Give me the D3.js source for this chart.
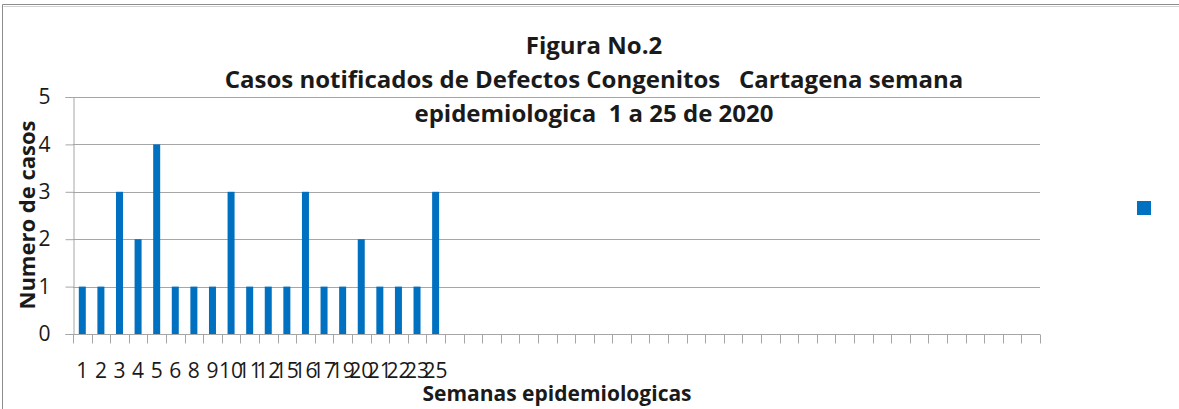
<!DOCTYPE html>
<html>
<head>
<meta charset="utf-8">
<script src="https://cdn.jsdelivr.net/npm/d3@7"></script>
<style>
  body { margin: 0; background: #fff; }
  text { font-family: "Open Sans", "Liberation Sans", sans-serif; }
</style>
</head>
<body>
<script>
// semanas con casos y casos por semana
var semanas = ["1","2","3","4","5","6","8","9","10","11","12","15","16","17","19","20","21","22","23","25"];
var casos = [1,1,3,2,4,1,1,1,3,1,1,1,3,1,1,2,1,1,1,3];
var totalCategorias = 52;   // el eje sigue con casillas vacias hasta 52
var yTicks = [0,1,2,3,4,5];
var titulo = ["Figura No.2", "Casos notificados de Defectos Congenitos   Cartagena semana", "epidemiologica  1 a 25 de 2020"];

var W = 1179, H = 409;
var svg = d3.select("body").append("svg").attr("width", W).attr("height", H);

// marco del grafico
svg.append("path").attr("d", "M2.5," + H + " V4.5 H" + W).attr("fill", "none").attr("stroke", "#8c8c8c").attr("stroke-width", 1);
svg.append("path").attr("d", "M3.5,6.5 H" + W).attr("fill", "none").attr("stroke", "#d0d0d0").attr("stroke-width", 1);

var pLeft = 73, pRight = 1040, pTop = 97, pBottom = 334;

var idx = d3.range(totalCategorias);
var x = d3.scaleBand().domain(idx).range([pLeft, pRight]).padding(0);
var y = d3.scaleLinear().domain([0, 5]).range([pBottom, pTop]);

// lineas de cuadricula
svg.append("g").selectAll("line").data(yTicks.slice(1)).enter().append("line")
  .attr("x1", pLeft).attr("x2", pRight)
  .attr("y1", function(d) { return Math.round(y(d)) + 0.5; })
  .attr("y2", function(d) { return Math.round(y(d)) + 0.5; })
  .attr("stroke", "#a6a6a6").attr("stroke-width", 1);

// barras
var bw = 7;
svg.append("g").selectAll("rect").data(casos).enter().append("rect")
  .attr("x", function(d, i) { return x(i) + x.bandwidth() / 2 - bw / 2; })
  .attr("y", function(d) { return y(d); })
  .attr("width", bw)
  .attr("height", function(d) { return y(0) - y(d); })
  .attr("fill", "#0070c0");

// eje y
var yAxis = svg.append("g").attr("transform", "translate(" + (pLeft + 0.5) + ",0)")
  .call(d3.axisLeft(y).tickValues(yTicks).tickFormat(d3.format("d")).tickSize(8).tickPadding(15));
yAxis.select(".domain").attr("stroke", "#a6a6a6");
yAxis.selectAll(".tick line").attr("stroke", "#a6a6a6");
yAxis.selectAll(".tick text").attr("font-size", 21).attr("fill", "#1a1a1a")
  .style("font-family", "'Open Sans', sans-serif");

// eje x: marcas en los bordes de cada casilla
var xg = svg.append("g").attr("transform", "translate(0," + (pBottom + 0.5) + ")");
xg.append("line").attr("x1", pLeft).attr("x2", pRight).attr("stroke", "#a6a6a6");
xg.selectAll(".tk").data(d3.range(totalCategorias + 1)).enter().append("line")
  .attr("class", "tk")
  .attr("x1", function(d) { return Math.round(pLeft + d * x.step()) + 0.5; })
  .attr("x2", function(d) { return Math.round(pLeft + d * x.step()) + 0.5; })
  .attr("y1", 0).attr("y2", 9)
  .attr("stroke", "#a6a6a6");
xg.selectAll(".lb").data(semanas).enter().append("text")
  .attr("class", "lb")
  .attr("x", function(d, i) { return x(i) + x.bandwidth() / 2; })
  .attr("y", 43)
  .attr("text-anchor", "middle")
  .attr("font-size", 21)
  .attr("fill", "#1a1a1a")
  .text(function(d) { return d; });

// titulos de los ejes
svg.append("text")
  .attr("transform", "translate(35,215) rotate(-90)")
  .attr("text-anchor", "middle")
  .attr("font-size", 22).attr("font-weight", "bold").attr("fill", "#1a1a1a")
  .text("Numero de casos");

svg.append("text")
  .attr("x", 557).attr("y", 401)
  .attr("text-anchor", "middle")
  .attr("font-size", 21).attr("font-weight", "bold").attr("fill", "#1a1a1a")
  .text("Semanas epidemiologicas");

// titulo
svg.append("g").selectAll("text").data(titulo).enter().append("text")
  .attr("x", 594)
  .attr("y", function(d, i) { return 54 + i * 34; })
  .attr("text-anchor", "middle")
  .attr("font-size", 24).attr("font-weight", "bold").attr("fill", "#1a1a1a")
  .style("white-space", "pre")
  .text(function(d) { return d; });

// leyenda (solo el marcador)
svg.append("rect").attr("x", 1137).attr("y", 201).attr("width", 14).attr("height", 14).attr("fill", "#0070c0");
</script>
</body>
</html>
